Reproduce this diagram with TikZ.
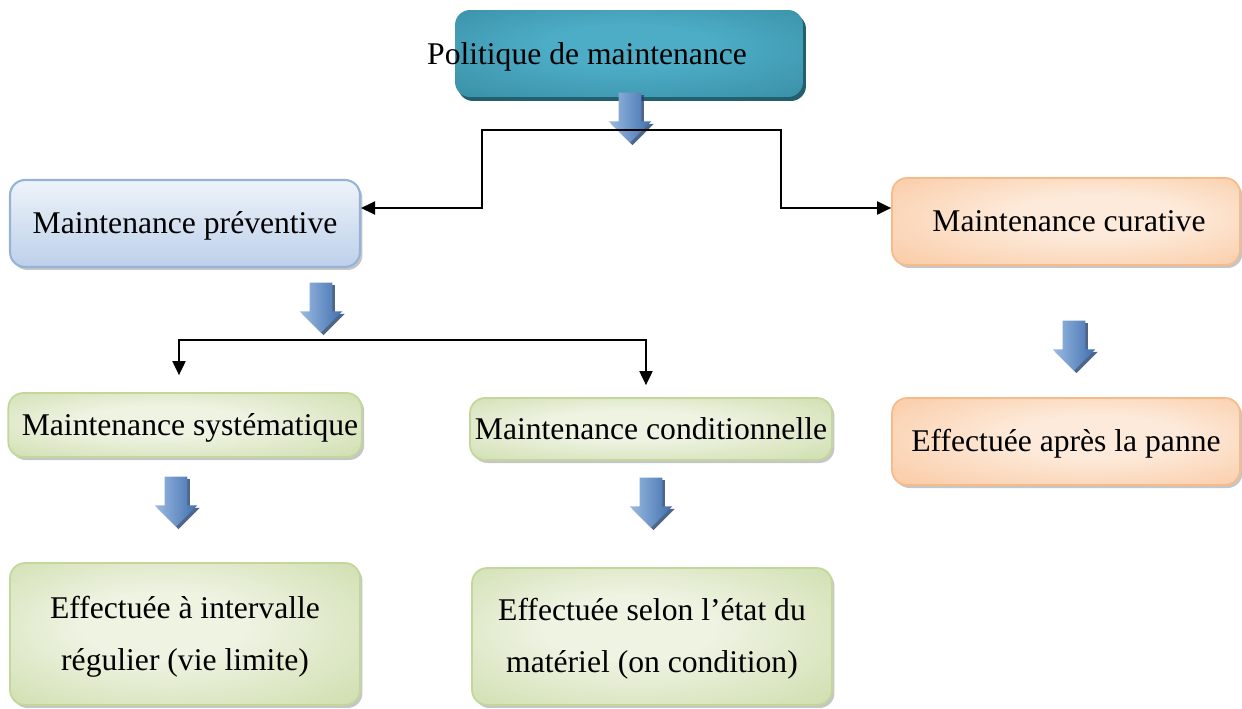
\documentclass[tikz,border=0pt]{standalone}
\usepackage{fontspec}
\setmainfont{Liberation Serif}
\usepackage{tikz}
\usetikzlibrary{arrows.meta,shapes.arrows,shadows}

\definecolor{tealin}{HTML}{4DADC6}
\definecolor{tealout}{HTML}{2F8196}
\definecolor{tealshadow}{HTML}{245F70}
\definecolor{bluetop}{HTML}{EEF3FA}
\definecolor{bluebot}{HTML}{BDD0EA}
\definecolor{blueline}{HTML}{95B3D7}
\definecolor{orangein}{HTML}{FDEADA}
\definecolor{orangeout}{HTML}{F8B987}
\definecolor{orangeline}{HTML}{F7BB8A}
\definecolor{greenin}{HTML}{EEF3E2}
\definecolor{greenout}{HTML}{BDD290}
\definecolor{greenline}{HTML}{C3D69B}
\definecolor{arrowlight}{HTML}{9CBBE2}
\definecolor{arrowdark}{HTML}{3F6FAE}
\definecolor{arrowshadow}{HTML}{24406B}

\pgfdeclareradialshading{tealglow}{\pgfpoint{0bp}{6bp}}{color(0bp)=(tealin); color(12bp)=(tealin); color(50bp)=(tealout)}
\pgfdeclareradialshading{orangeglow}{\pgfpoint{6bp}{4bp}}{color(0bp)=(orangein); color(12bp)=(orangein); color(52bp)=(orangeout)}
\pgfdeclareradialshading{greenglow}{\pgfpoint{-4bp}{4bp}}{color(0bp)=(greenin); color(12bp)=(greenin); color(52bp)=(greenout)}

\tikzset{
	box/.style={rectangle, rounded corners=0.3cm, minimum width=7cm, minimum height=1.74cm, inner sep=2pt, align=center,
		font=\fontsize{18}{29.5}\selectfont, text depth=1pt,
		drop shadow={shadow xshift=0.05cm, shadow yshift=-0.06cm, fill=black!50, opacity=0.45}},
	tealbox/.style={box, shading=tealglow,
		drop shadow={shadow xshift=0.06cm, shadow yshift=-0.08cm, fill=tealshadow, opacity=1}},
	bluebox/.style={box, draw=blueline, line width=1.2pt, top color=bluetop, bottom color=bluebot},
	orangebox/.style={box, draw=orangeline, line width=1pt, shading=orangeglow},
	greenbox/.style={box, draw=greenline, line width=1pt, shading=greenglow},
	downarrow/.style={single arrow, shape border rotate=270, inner sep=0.22cm, minimum height=1cm,
		single arrow head extend=0.2cm, left color=arrowlight, right color=arrowdark,
		drop shadow={shadow xshift=0.05cm, shadow yshift=-0.05cm, fill=arrowshadow, opacity=0.8}},
	conn/.style={-{Triangle[length=0.28cm,width=0.26cm]}, line width=1.1pt},
}

\begin{document}
\begin{tikzpicture}[x=0.02cm, y=-0.02cm]
	\useasboundingbox (0,0) rectangle (1242,708);

	% top of the tree
	\node[tealbox, minimum width=6.96cm] (pol) at (629,53.5) {};
	\node[font=\fontsize{18}{22}\selectfont, inner sep=0pt] (poltxt) at (587,57) {Politique de maintenance};
	\node[downarrow] (a0) at (630,112) {};

	% first level
	\node[bluebox] (prev) at (185,223.5) {Maintenance préventive};
	\node[orangebox, minimum width=6.96cm] (cur) at (1066,221.5) {\hspace*{0.12cm}Maintenance curative};

	\coordinate (hub1) at (630,130);
	\coordinate (bend1) at (482,208);
	\coordinate (bend2) at (781,208);
	\draw[conn] (hub1) -| (bend1) -- (bend1 -| prev.east);
	\draw[conn] (hub1) -| (bend2) -- (bend2 -| cur.west);

	% preventive branch
	\node[downarrow] (a1) at (321,302) {};
	\node[greenbox, minimum height=1.28cm] (sys) at (185,425) {\hspace*{0.2cm}Maintenance systématique};
	\node[greenbox, minimum width=7.24cm, minimum height=1.24cm] (cond) at (651,429) {Maintenance conditionnelle};

	\coordinate (hub2) at (321,340);
	\draw[conn, shorten >=0.34cm] (hub2) -| ([xshift=-0.12cm]sys.north);
	\draw[conn, shorten >=0.24cm] (hub2) -| ([xshift=-0.1cm]cond.north);

	\node[downarrow] (a3) at (176,496) {};
	\node[downarrow] (a4) at (651,497) {};
	\node[greenbox, minimum height=2.84cm] (eff1) at (185,634) {Effectuée à intervalle\\régulier (vie limite)};
	\node[greenbox, minimum width=7.2cm, minimum height=2.74cm] (eff2) at (652,636.5) {Effectuée selon l’état du\\matériel (on condition)};

	% curative branch
	\node[downarrow] (a2) at (1074,340) {};
	\node[orangebox, minimum width=6.96cm] (panne) at (1066,441.5) {Effectuée après la panne};
\end{tikzpicture}
\end{document}
